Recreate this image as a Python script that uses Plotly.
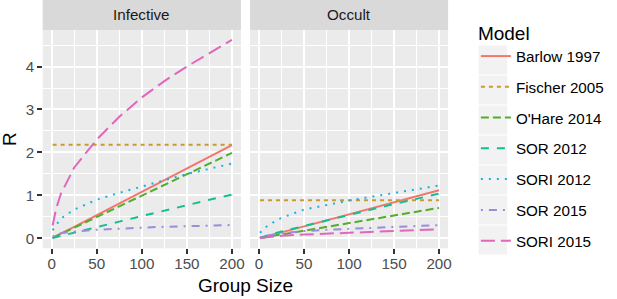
import plotly.graph_objects as go

# ---- data ----
models = ["Barlow 1997", "Fischer 2005", "O'Hare 2014", "SOR 2012",
          "SORI 2012", "SOR 2015", "SORI 2015"]
group_size = [1, 5, 10, 25, 50, 75, 100, 125, 150, 175, 200]

barlow_inf = [0.01, 0.05, 0.11, 0.27, 0.54, 0.81, 1.09, 1.36, 1.63, 1.90, 2.17]
fischer_inf = [2.18, 2.18, 2.18, 2.18, 2.18, 2.18, 2.18, 2.18, 2.18, 2.18, 2.18]
ohare_inf = [0.01, 0.05, 0.10, 0.25, 0.50, 0.75, 1.00, 1.25, 1.50, 1.75, 1.99]
sor2012_inf = [0.01, 0.03, 0.05, 0.13, 0.26, 0.39, 0.52, 0.64, 0.77, 0.90, 1.02]
sori2012_inf = [0.19, 0.32, 0.46, 0.67, 0.90, 1.06, 1.21, 1.36, 1.50, 1.62, 1.74]
sor2015_inf = [0.04, 0.09, 0.12, 0.16, 0.20, 0.23, 0.25, 0.27, 0.28, 0.30, 0.31]
sori2015_inf = [0.30, 0.70, 1.03, 1.65, 2.30, 2.83, 3.28, 3.66, 4.00, 4.32, 4.62]

barlow_occ = [0.01, 0.03, 0.06, 0.14, 0.28, 0.42, 0.56, 0.70, 0.84, 0.98, 1.12]
fischer_occ = [0.89, 0.89, 0.89, 0.89, 0.89, 0.89, 0.89, 0.89, 0.89, 0.89, 0.89]
ohare_occ = [0.00, 0.02, 0.04, 0.09, 0.18, 0.27, 0.36, 0.44, 0.53, 0.62, 0.71]
sor2012_occ = [0.01, 0.04, 0.07, 0.16, 0.29, 0.42, 0.55, 0.68, 0.80, 0.92, 1.04]
sori2012_occ = [0.13, 0.22, 0.30, 0.48, 0.67, 0.78, 0.88, 0.97, 1.06, 1.15, 1.23]
sor2015_occ = [0.02, 0.05, 0.07, 0.12, 0.17, 0.20, 0.22, 0.25, 0.27, 0.29, 0.31]
sori2015_occ = [0.01, 0.02, 0.03, 0.06, 0.09, 0.11, 0.13, 0.15, 0.17, 0.19, 0.21]

panels = ["Infective", "Occult"]
x_ticks = [0, 50, 100, 150, 200]
y_ticks = [0, 1, 2, 3, 4]

infective = [barlow_inf, fischer_inf, ohare_inf, sor2012_inf,
             sori2012_inf, sor2015_inf, sori2015_inf]
occult = [barlow_occ, fischer_occ, ohare_occ, sor2012_occ,
          sori2012_occ, sor2015_occ, sori2015_occ]

# ---- styles ----
colors = ["#F3766E", "#C69C2E", "#50AE2A", "#15BE92", "#14B2E6", "#9D8BDC", "#E067BC"]
dashes = ["solid", "4px,4px", "8px,4px", "8px,8px", "2px,6px",
          "2px,6px,8px,6px", "14px,6px"]
FONT = "Liberation Sans, Arial, sans-serif"
W, H = 617, 299


def px_x(p):
    return p / W


def px_y(p):
    return 1 - p / H


fig = go.Figure()
for i, name in enumerate(models):
    for k, (vals, xa, ya) in enumerate([(infective[i], "x", "y"), (occult[i], "x2", "y2")]):
        fig.add_trace(go.Scatter(
            x=group_size, y=vals, mode="lines", name=name,
            legendgroup=name, showlegend=(k == 0),
            line=dict(color=colors[i], width=2, dash=dashes[i]),
            xaxis=xa, yaxis=ya, hoverinfo="skip"))

panel_x = [(43, 242.5), (251.7, 451)]
panel_top, panel_bot = 30, 248.3
ydom = [px_y(panel_bot), px_y(panel_top)]

axis_common = dict(
    range=[-10, 210], tickvals=x_ticks, ticks="outside", ticklen=4.5,
    tickwidth=2, tickcolor="#333333", showgrid=True, gridcolor="white",
    gridwidth=2, zeroline=False, showline=False, ticklabelstandoff=-3,
    tickfont=dict(family=FONT, size=15.2, color="#4D4D4D"),
    minor=dict(tickvals=[25, 75, 125, 175], showgrid=True, gridcolor="white",
               gridwidth=1, ticks=""),
)
yaxis_common = dict(
    range=[-0.231, 4.85], tickvals=y_ticks, showgrid=True, gridcolor="white",
    gridwidth=2, zeroline=False, showline=False,
    minor=dict(tickvals=[0.5, 1.5, 2.5, 3.5, 4.5], showgrid=True,
               gridcolor="white", gridwidth=1, ticks=""),
)

fig.update_layout(
    width=W, height=H,
    margin=dict(l=0, r=0, t=0, b=0),
    paper_bgcolor="white", plot_bgcolor="#EBEBEB",
    xaxis=dict(domain=[px_x(panel_x[0][0]), px_x(panel_x[0][1])], anchor="y", **axis_common),
    xaxis2=dict(domain=[px_x(panel_x[1][0]), px_x(panel_x[1][1])], anchor="y2", **axis_common),
    yaxis=dict(domain=ydom, anchor="x", ticks="outside", ticklen=4.5, tickwidth=2,
               tickcolor="#333333",
               tickfont=dict(family=FONT, size=15.2, color="#4D4D4D"), **yaxis_common),
    yaxis2=dict(domain=ydom, anchor="x2", showticklabels=False, ticks="", **yaxis_common),
    showlegend=True,
    legend=dict(
        x=px_x(479), y=px_y(15), xanchor="left", yanchor="top",
        bgcolor="rgba(0,0,0,0)", tracegroupgap=8, itemwidth=30,
        font=dict(family=FONT, size=15.2, color="black"),
        title=dict(text="Model", font=dict(family=FONT, size=19, color="black")),
    ),
)

shapes = []
annotations = []
for (x0, x1), label in zip(panel_x, panels):
    shapes.append(dict(type="rect", xref="paper", yref="paper",
                       x0=px_x(x0), x1=px_x(x1), y0=px_y(panel_top), y1=px_y(0),
                       fillcolor="#D9D9D9", line=dict(width=0), layer="below"))
    annotations.append(dict(text=label, xref="paper", yref="paper",
                            x=px_x((x0 + x1) / 2), y=px_y(15), showarrow=False,
                            xanchor="center", yanchor="middle",
                            font=dict(family=FONT, size=15.2, color="#1A1A1A")))

# legend key backgrounds
for i in range(len(models)):
    top = 45 + 30 * i
    shapes.append(dict(type="rect", xref="paper", yref="paper",
                       x0=px_x(481.7), x1=px_x(510.5), y0=px_y(top + 29.5), y1=px_y(top + 0.5),
                       fillcolor="#F2F2F2", line=dict(width=0), layer="above"))

annotations.append(dict(text="R", xref="paper", yref="paper", x=px_x(9), y=px_y(139),
                        showarrow=False, textangle=-90, xanchor="center", yanchor="middle",
                        font=dict(family=FONT, size=19, color="black")))
annotations.append(dict(text="Group Size", xref="paper", yref="paper", x=px_x(247),
                        y=px_y(285), showarrow=False, xanchor="center", yanchor="middle",
                        font=dict(family=FONT, size=19, color="black")))

fig.update_layout(shapes=shapes, annotations=annotations)
fig.write_html("out.html", config={"displayModeBar": False},
               post_script="document.body.style.margin='0';document.body.style.overflow='hidden';")
